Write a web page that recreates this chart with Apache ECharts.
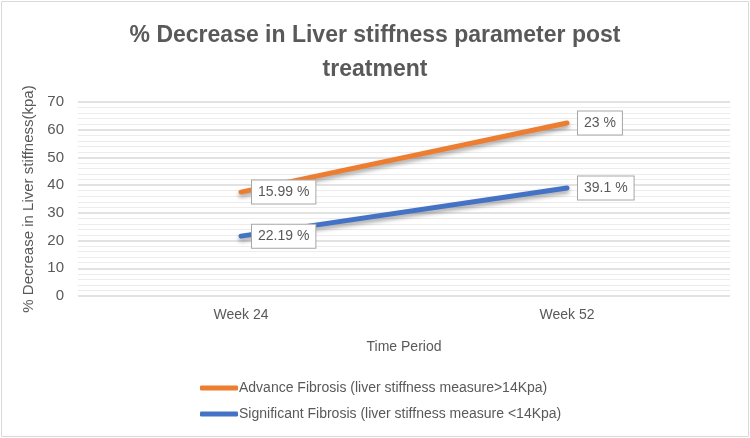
<!DOCTYPE html>
<html><head><meta charset="utf-8">
<script src="https://cdn.jsdelivr.net/npm/echarts@6/dist/echarts.min.js"></script>
<style>html,body{margin:0;padding:0;background:#fff}#c{width:750px;height:438px}</style>
</head><body><div id="c"></div>
<script>
const categories = ['Week 24', 'Week 52'];
const advanceValues = [37.5, 62.4];
const advanceLabels = ['15.99 %', '23 %'];
const significantValues = [21.6, 39.0];
const significantLabels = ['22.19 %', '39.1 %'];
const seriesNames = ['Advance Fibrosis (liver stiffness measure>14Kpa)', 'Significant Fibrosis (liver stiffness measure <14Kpa)'];

const FONT = '"Liberation Sans", "Open Sans", sans-serif';
const txt = '#595959';
function lab(texts) {
  return {
    show: true, position: 'right', distance: 10,
    formatter: p => texts[p.dataIndex],
    color: txt, fontSize: 14, fontFamily: FONT,
    backgroundColor: '#fff', borderColor: '#a6a6a6', borderWidth: 1,
    padding: [5, 6, 4, 6]
  };
}
const chart = echarts.init(document.getElementById('c'));
chart.setOption({
  animation: false,
  graphic: [{ type: 'rect', shape: { x: 1.5, y: 1.5, width: 747, height: 435 }, style: { fill: 'none', stroke: '#d9d9d9', lineWidth: 1 } }],
  title: {
    text: '% Decrease in Liver stiffness parameter post\ntreatment',
    left: 'center', top: 14,
    textStyle: { color: txt, fontSize: 23, fontWeight: 'bold', fontFamily: FONT, lineHeight: 34 }
  },
  legend: {
    orient: 'vertical', left: 195, top: 376, itemGap: 12,
    itemWidth: 38, itemHeight: 5, icon: 'roundRect',
    textStyle: { color: txt, fontSize: 14, fontFamily: FONT, padding: [0, 0, 0, -4] },
    data: seriesNames
  },
  grid: { left: 78, right: 20, top: 102, bottom: 142 },
  xAxis: {
    type: 'category', data: categories,
    name: 'Time Period', nameLocation: 'middle', nameGap: 44,
    nameTextStyle: { color: txt, fontSize: 14, fontFamily: FONT },
    axisLine: { show: false }, axisTick: { show: false },
    axisLabel: { color: txt, fontSize: 14, fontFamily: FONT, margin: 12 }
  },
  yAxis: {
    type: 'value', min: 0, max: 70, interval: 10,
    name: '% Decrease in Liver stiffness(kpa)', nameLocation: 'middle', nameGap: 33,
    nameTextStyle: { color: txt, fontSize: 15, fontFamily: FONT },
    axisLabel: { color: txt, fontSize: 15, fontFamily: FONT, margin: 14 },
    splitLine: { lineStyle: { color: '#d9d9d9', width: 1.5 } },
    minorTick: { show: false, splitNumber: 5 },
    minorSplitLine: { show: true, lineStyle: { color: '#ececec', width: 1 } }
  },
  series: [
    {
      name: seriesNames[0], type: 'line', data: advanceValues,
      showSymbol: true, symbol: 'circle', symbolSize: 2, color: '#ED7D31',
      lineStyle: { width: 5, cap: 'round', shadowColor: 'rgba(0,0,0,0.35)', shadowBlur: 4, shadowOffsetY: 3 },
      label: lab(advanceLabels)
    },
    {
      name: seriesNames[1], type: 'line', data: significantValues,
      showSymbol: true, symbol: 'circle', symbolSize: 2, color: '#4472C4',
      lineStyle: { width: 5, cap: 'round', shadowColor: 'rgba(0,0,0,0.35)', shadowBlur: 4, shadowOffsetY: 3 },
      label: lab(significantLabels)
    }
  ]
});
</script></body></html>
